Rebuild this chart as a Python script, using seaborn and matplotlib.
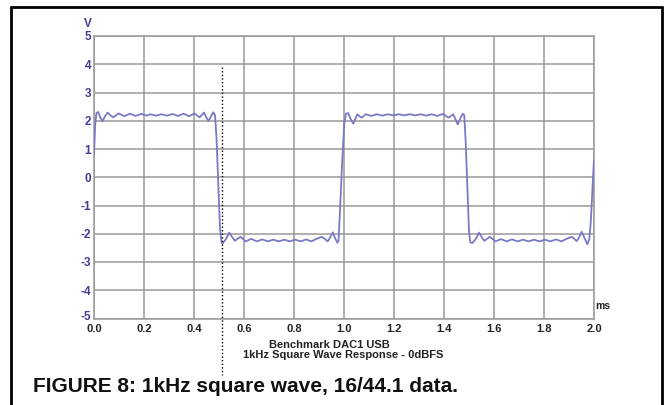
import matplotlib
matplotlib.use("Agg")
import matplotlib.pyplot as plt
from matplotlib.lines import Line2D
import seaborn as sns
import pandas as pd

# Measured output of the DAC: time (ms) and voltage (V), segment by segment
t_high1 = [0.000, 0.005, 0.010, 0.017, 0.025, 0.034, 0.044, 0.055, 0.066, 0.077,
           0.088, 0.099, 0.121, 0.144, 0.166, 0.189, 0.211, 0.226, 0.248, 0.270,
           0.292, 0.314, 0.336, 0.358, 0.380, 0.402, 0.412, 0.422, 0.431, 0.440,
           0.449, 0.458, 0.468, 0.477, 0.484, 0.490, 0.497, 0.504, 0.510]
v_high1 = [0.80, 1.90, 2.28, 2.31, 2.12, 1.98, 2.16, 2.29, 2.19, 2.12,
           2.19, 2.26, 2.16, 2.25, 2.17, 2.24, 2.18, 2.23, 2.18, 2.23,
           2.18, 2.24, 2.17, 2.25, 2.16, 2.26, 2.19, 2.12, 2.20, 2.29,
           2.12, 1.99, 2.16, 2.30, 2.20, 1.40, -0.20, -1.80, -2.30]

t_low1 = [0.514, 0.527, 0.541, 0.553, 0.564, 0.574, 0.586, 0.607, 0.629, 0.651,
          0.673, 0.695, 0.717, 0.739, 0.761, 0.783, 0.805, 0.827, 0.849, 0.869,
          0.890, 0.911, 0.923, 0.935, 0.945, 0.955, 0.964, 0.974, 0.978, 0.985,
          0.993, 1.001, 1.008]
v_low1 = [-2.34, -2.20, -1.96, -2.12, -2.25, -2.18, -2.11, -2.27, -2.18, -2.27,
          -2.20, -2.27, -2.21, -2.27, -2.21, -2.27, -2.21, -2.27, -2.20, -2.27,
          -2.18, -2.11, -2.18, -2.27, -2.12, -1.95, -2.15, -2.32, -2.25, -1.00,
          0.60, 1.90, 2.25]

t_high2 = [1.017, 1.027, 1.037, 1.046, 1.053, 1.062, 1.071, 1.079, 1.087, 1.109,
           1.131, 1.153, 1.175, 1.197, 1.219, 1.241, 1.263, 1.285, 1.307, 1.329,
           1.351, 1.373, 1.395, 1.419, 1.428, 1.437, 1.446, 1.455, 1.465, 1.475,
           1.481, 1.487, 1.494, 1.500, 1.505]
v_high2 = [2.27, 2.05, 1.90, 2.08, 2.23, 2.16, 2.11, 2.17, 2.23, 2.17,
           2.23, 2.18, 2.23, 2.19, 2.23, 2.19, 2.23, 2.19, 2.23, 2.18,
           2.23, 2.17, 2.24, 2.11, 2.17, 2.23, 2.05, 1.87, 2.08, 2.25,
           2.20, 1.20, -0.50, -1.90, -2.30]

t_low2 = [1.513, 1.526, 1.540, 1.551, 1.561, 1.572, 1.584, 1.606, 1.628, 1.650,
          1.672, 1.694, 1.716, 1.738, 1.760, 1.782, 1.804, 1.826, 1.848, 1.870,
          1.890, 1.911, 1.921, 1.931, 1.941, 1.951, 1.962, 1.973, 1.981, 1.987,
          1.991, 1.996, 2.000]
v_low2 = [-2.33, -2.20, -1.96, -2.12, -2.25, -2.18, -2.11, -2.27, -2.19, -2.27,
          -2.20, -2.27, -2.21, -2.27, -2.21, -2.27, -2.21, -2.27, -2.20, -2.27,
          -2.18, -2.11, -2.18, -2.26, -2.12, -1.93, -2.15, -2.37, -2.20, -1.60,
          -0.90, -0.10, 0.64]

x_ticks = [0.0, 0.2, 0.4, 0.6, 0.8, 1.0, 1.2, 1.4, 1.6, 1.8, 2.0]
x_tick_labels = ["0.0", "0.2", "0.4", "0.6", "0.8", "1.0", "1.2", "1.4", "1.6", "1.8", "2.0"]
y_ticks = [-5, -4, -3, -2, -1, 0, 1, 2, 3, 4, 5]
y_tick_labels = ["-5", "-4", "-3", "-2", "-1", "0", "1", "2", "3", "4", "5"]

cursor_t = 0.512          # dotted time cursor
cursor_top_v = 3.92

title_lines = ["Benchmark DAC1 USB", "1kHz Square Wave Response - 0dBFS"]
caption = "FIGURE 8: 1kHz square wave, 16/44.1 data."

trace = pd.DataFrame({
    "t": t_high1 + t_low1 + t_high2 + t_low2,
    "v": v_high1 + v_low1 + v_high2 + v_low2,
})

sns.set_theme(style="white")
plt.rcParams["font.family"] = ["Liberation Sans", "DejaVu Sans"]

fig = plt.figure(figsize=(6.72, 4.05), dpi=100)
ax = fig.add_axes([94 / 672, 1 - 318.5 / 405, 500 / 672, 282.5 / 405])

grid_col = "#999999"
volt_col = "#433c96"
sns.lineplot(data=trace, x="t", y="v", ax=ax, sort=False, estimator=None,
             color="#7a7ac4", linewidth=1.3, zorder=3)

ax.set_xlim(0, 2.0)
ax.set_ylim(-5, 5)
ax.set_xticks(x_ticks)
ax.set_xticklabels(x_tick_labels, fontsize=8, fontweight="bold", color="#222222")
ax.set_yticks(y_ticks)
ax.set_yticklabels([])
ax.tick_params(axis="both", length=0)
ax.tick_params(axis="x", pad=4)
ax.grid(True, color=grid_col, linewidth=1.1)
for s in ax.spines.values():
    s.set_color(grid_col)
    s.set_linewidth(1.1)
ax.set_xlabel("")
ax.set_ylabel("")

# voltage labels drawn beside the axis; the lowest one sits a little higher
for yv, lab in zip(y_ticks, y_tick_labels):
    ax.text(-0.012, yv + (0.1 if yv == y_ticks[0] else 0.0), lab,
            ha="right", va="center_baseline", fontsize=8.5, fontweight="bold",
            color=volt_col, clip_on=False)

# unit labels
ax.text(-0.01, 5.2, "V", ha="right", va="bottom",
        fontsize=8.5, fontweight="bold", color=volt_col, clip_on=False)
ax.text(2.006, -4.55, "ms", ha="left", va="center", fontsize=7.5,
        fontweight="bold", color="#222222", clip_on=False)

# dotted time cursor reaching below the plot
ax.plot([cursor_t, cursor_t], [cursor_top_v, -7.0], color="black",
        linestyle=(0, (1, 1.6)), linewidth=1.0, clip_on=False, zorder=4)

# chart titles under the axis
fig.text(329 / 672, 1 - 345 / 405, title_lines[0], ha="center", va="center",
         fontsize=8, fontweight="bold", color="#222222")
fig.text(343 / 672, 1 - 355.5 / 405, title_lines[1], ha="center", va="center",
         fontsize=8, fontweight="bold", color="#222222")

fig.text(33 / 672, 1 - 387 / 405, caption, ha="left", va="center",
         fontsize=15, fontweight="bold", color="#111111")

# page frame
frame_kw = dict(color="black", linewidth=2.0, transform=fig.transFigure)
fig.add_artist(Line2D([11 / 672, 11 / 672], [0, 1 - 7 / 405], **frame_kw))
fig.add_artist(Line2D([662 / 672, 662 / 672], [0, 1 - 7 / 405], **frame_kw))
fig.add_artist(Line2D([11 / 672, 662 / 672], [1 - 7 / 405, 1 - 7 / 405], **frame_kw))

fig.savefig("out.png", dpi=100, facecolor="white")
